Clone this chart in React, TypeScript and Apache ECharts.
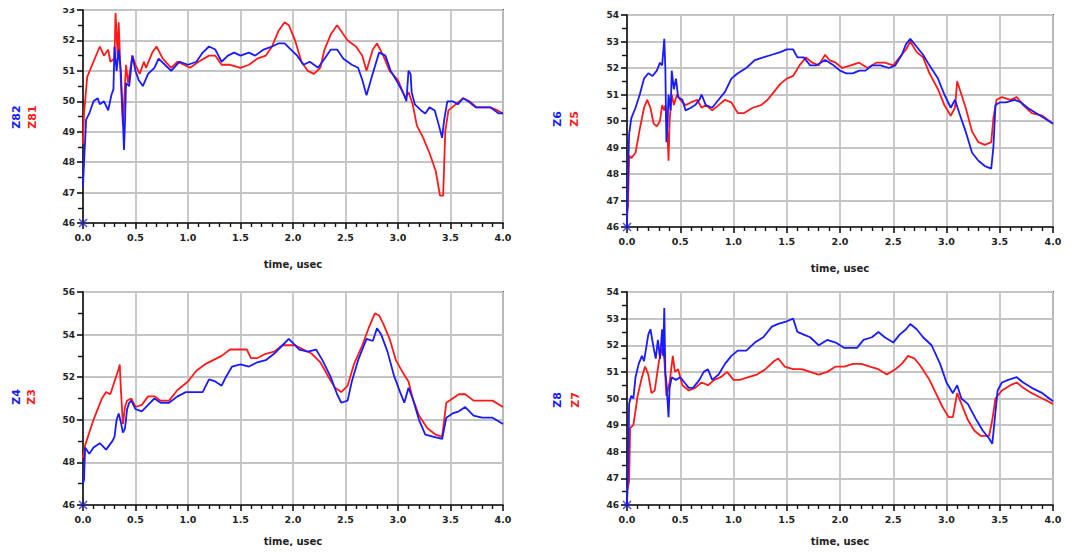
import React, { useEffect, useRef } from "react";
import * as echarts from "echarts";

const xTicks = [0, 0.5, 1, 1.5, 2, 2.5, 3, 3.5, 4];

const panelNames = [
  ["Z82", "Z81"],
  ["Z6", "Z5"],
  ["Z4", "Z3"],
  ["Z8", "Z7"],
];
const yRanges = [
  [46, 53, 1],
  [46, 54, 1],
  [46, 56, 2],
  [46, 54, 1],
];

const tlRed = [[0,48.6],[0.01,49.6],[0.04,50.8],[0.1,51.3],[0.16,51.8],[0.2,51.5],[0.24,51.7],[0.26,51.3],[0.3,51.4],[0.31,52.9],[0.33,51.5],[0.34,52.6],[0.36,50.7],[0.38,49.2],[0.41,51.2],[0.43,50.6],[0.47,51.5],[0.5,51.2],[0.54,50.9],[0.58,51.3],[0.6,51.1],[0.66,51.6],[0.7,51.8],[0.76,51.4],[0.84,51.1],[0.9,51.3],[0.96,51.2],[1.02,51.1],[1.1,51.3],[1.2,51.5],[1.26,51.5],[1.32,51.2],[1.4,51.2],[1.5,51.1],[1.58,51.2],[1.66,51.4],[1.74,51.5],[1.8,51.8],[1.86,52.3],[1.92,52.6],[1.96,52.5],[2.02,52.0],[2.08,51.3],[2.14,51.0],[2.2,50.9],[2.26,51.1],[2.3,51.7],[2.36,52.2],[2.42,52.5],[2.46,52.3],[2.52,52.0],[2.6,51.8],[2.66,51.5],[2.7,51.0],[2.76,51.7],[2.8,51.9],[2.86,51.5],[2.92,51.0],[3.0,50.7],[3.07,50.1],[3.1,50.3],[3.14,49.9],[3.18,49.2],[3.24,48.8],[3.3,48.3],[3.36,47.7],[3.4,46.9],[3.43,46.9],[3.45,49.0],[3.48,49.7],[3.55,49.9],[3.62,50.1],[3.68,50.0],[3.75,49.8],[3.82,49.8],[3.88,49.8],[3.95,49.7],[4.0,49.6]];
const tlBlue = [[0,47.2],[0.01,48.0],[0.03,49.4],[0.06,49.6],[0.1,50.0],[0.14,50.1],[0.16,49.9],[0.2,50.0],[0.24,49.7],[0.27,50.2],[0.29,50.4],[0.3,51.8],[0.32,51.0],[0.34,51.7],[0.36,51.0],[0.38,49.4],[0.39,48.4],[0.4,49.3],[0.41,50.6],[0.44,50.5],[0.47,51.5],[0.5,51.0],[0.53,50.7],[0.57,50.5],[0.62,50.9],[0.68,51.1],[0.72,51.4],[0.78,51.2],[0.84,51.0],[0.92,51.3],[1.0,51.2],[1.08,51.3],[1.14,51.6],[1.2,51.8],[1.26,51.7],[1.32,51.3],[1.38,51.5],[1.44,51.6],[1.5,51.5],[1.58,51.6],[1.64,51.5],[1.72,51.7],[1.8,51.8],[1.86,51.9],[1.92,51.9],[1.98,51.7],[2.04,51.5],[2.1,51.2],[2.16,51.3],[2.24,51.1],[2.3,51.4],[2.36,51.7],[2.42,51.7],[2.48,51.4],[2.56,51.2],[2.62,51.1],[2.66,50.7],[2.7,50.2],[2.75,50.8],[2.82,51.6],[2.88,51.5],[2.93,51.0],[3.0,50.6],[3.06,50.2],[3.08,50.0],[3.1,51.0],[3.12,50.9],[3.13,50.3],[3.16,49.9],[3.22,49.7],[3.26,49.6],[3.3,49.8],[3.35,49.7],[3.39,49.2],[3.42,48.8],[3.44,49.4],[3.47,50.0],[3.52,50.0],[3.57,49.9],[3.62,50.1],[3.67,50.0],[3.74,49.8],[3.82,49.8],[3.88,49.8],[3.96,49.6],[4.0,49.6]];

const trBlue = [[0,46.0],[0.01,48.0],[0.02,49.5],[0.04,50.1],[0.08,50.5],[0.12,51.0],[0.16,51.6],[0.2,51.8],[0.24,51.7],[0.28,51.9],[0.31,52.2],[0.33,52.1],[0.35,53.1],[0.36,52.0],[0.37,49.2],[0.38,49.8],[0.39,51.0],[0.41,50.4],[0.42,51.9],[0.44,51.2],[0.46,51.6],[0.48,50.9],[0.52,50.8],[0.55,50.4],[0.6,50.5],[0.64,50.6],[0.68,50.8],[0.7,51.0],[0.74,50.6],[0.8,50.5],[0.86,50.8],[0.92,51.1],[0.98,51.6],[1.04,51.8],[1.12,52.0],[1.2,52.3],[1.28,52.4],[1.36,52.5],[1.44,52.6],[1.5,52.7],[1.56,52.7],[1.6,52.4],[1.66,52.4],[1.72,52.1],[1.78,52.1],[1.86,52.3],[1.94,52.1],[2.0,51.9],[2.06,51.8],[2.12,51.8],[2.18,51.9],[2.24,51.9],[2.3,52.1],[2.38,52.1],[2.46,52.0],[2.52,52.1],[2.58,52.5],[2.62,52.9],[2.66,53.1],[2.72,52.8],[2.78,52.5],[2.84,52.1],[2.92,51.6],[2.98,51.0],[3.04,50.5],[3.08,50.8],[3.12,50.3],[3.18,49.6],[3.24,48.8],[3.3,48.5],[3.36,48.3],[3.42,48.2],[3.44,49.0],[3.46,50.6],[3.5,50.7],[3.56,50.7],[3.64,50.8],[3.7,50.7],[3.76,50.5],[3.84,50.3],[3.92,50.1],[4.0,49.9]];
const trRed = [[0,46.5],[0.01,46.8],[0.02,48.7],[0.04,48.6],[0.08,48.8],[0.12,49.7],[0.16,50.5],[0.19,50.8],[0.22,50.5],[0.25,49.9],[0.28,49.8],[0.31,50.0],[0.33,50.6],[0.35,50.4],[0.36,50.6],[0.38,49.5],[0.39,48.5],[0.4,50.0],[0.42,51.0],[0.44,50.6],[0.47,51.0],[0.5,50.8],[0.55,50.6],[0.6,50.7],[0.66,50.8],[0.7,50.5],[0.74,50.6],[0.8,50.4],[0.86,50.6],[0.92,50.8],[0.98,50.7],[1.04,50.3],[1.1,50.3],[1.18,50.5],[1.26,50.6],[1.32,50.8],[1.38,51.1],[1.44,51.4],[1.5,51.6],[1.56,51.7],[1.62,52.1],[1.68,52.4],[1.74,52.2],[1.8,52.1],[1.86,52.5],[1.9,52.3],[1.96,52.2],[2.02,52.0],[2.1,52.1],[2.18,52.2],[2.26,52.0],[2.34,52.2],[2.42,52.2],[2.5,52.1],[2.56,52.4],[2.62,52.7],[2.66,53.0],[2.72,52.6],[2.78,52.4],[2.84,51.8],[2.92,51.2],[2.98,50.6],[3.04,50.2],[3.08,50.5],[3.1,51.5],[3.14,51.0],[3.18,50.5],[3.24,49.6],[3.3,49.2],[3.36,49.1],[3.42,49.2],[3.44,50.1],[3.47,50.8],[3.52,50.9],[3.6,50.8],[3.66,50.9],[3.72,50.6],[3.8,50.3],[3.9,50.2],[4.0,49.9]];

const blRed = [[0,48.2],[0.02,48.8],[0.06,49.4],[0.1,50.0],[0.14,50.5],[0.18,51.0],[0.22,51.3],[0.26,51.2],[0.3,51.8],[0.34,52.4],[0.35,52.6],[0.36,51.5],[0.38,49.8],[0.4,50.6],[0.42,50.9],[0.46,51.0],[0.5,50.6],[0.56,50.7],[0.62,51.1],[0.68,51.1],[0.74,50.9],[0.82,50.9],[0.9,51.4],[1.0,51.8],[1.08,52.3],[1.16,52.6],[1.24,52.8],[1.32,53.0],[1.4,53.3],[1.48,53.3],[1.56,53.3],[1.6,52.9],[1.66,52.9],[1.74,53.1],[1.82,53.2],[1.9,53.5],[1.96,53.5],[2.02,53.5],[2.1,53.3],[2.18,53.1],[2.26,52.7],[2.34,52.0],[2.4,51.5],[2.46,51.3],[2.52,51.6],[2.58,52.6],[2.66,53.5],[2.72,54.3],[2.78,55.0],[2.82,54.9],[2.86,54.5],[2.92,53.8],[2.98,52.8],[3.06,52.1],[3.1,51.8],[3.14,51.0],[3.2,50.2],[3.28,49.6],[3.36,49.3],[3.42,49.2],[3.46,50.8],[3.52,51.0],[3.58,51.2],[3.64,51.2],[3.72,50.9],[3.8,50.9],[3.9,50.9],[4.0,50.6]];
const blBlue = [[0,47.0],[0.01,47.2],[0.02,48.7],[0.06,48.4],[0.1,48.7],[0.16,48.9],[0.22,48.6],[0.28,49.0],[0.3,49.2],[0.32,50.0],[0.34,50.3],[0.36,49.9],[0.38,49.4],[0.4,49.6],[0.42,50.5],[0.44,50.8],[0.46,50.9],[0.5,50.5],[0.56,50.4],[0.62,50.7],[0.68,51.0],[0.74,50.8],[0.82,50.8],[0.9,51.1],[0.98,51.3],[1.06,51.3],[1.14,51.3],[1.2,51.9],[1.26,51.8],[1.32,51.6],[1.36,52.0],[1.42,52.5],[1.5,52.6],[1.58,52.5],[1.66,52.7],[1.74,52.8],[1.82,53.1],[1.9,53.5],[1.96,53.8],[2.0,53.6],[2.06,53.3],[2.14,53.2],[2.22,53.3],[2.28,52.8],[2.36,52.0],[2.42,51.2],[2.46,50.8],[2.52,50.9],[2.56,51.8],[2.62,52.8],[2.7,53.8],[2.76,53.7],[2.8,54.3],[2.84,54.0],[2.9,53.2],[2.96,52.1],[3.02,51.3],[3.06,50.8],[3.1,51.5],[3.14,51.0],[3.2,50.0],[3.26,49.3],[3.34,49.2],[3.42,49.1],[3.46,50.1],[3.52,50.3],[3.58,50.4],[3.64,50.6],[3.72,50.2],[3.8,50.1],[3.9,50.1],[4.0,49.8]];

const brBlue = [[0,46.0],[0.01,47.2],[0.02,49.8],[0.04,50.1],[0.06,50.0],[0.08,50.8],[0.11,51.3],[0.14,51.6],[0.16,51.4],[0.2,52.4],[0.22,52.6],[0.25,51.9],[0.27,51.5],[0.29,52.2],[0.31,51.5],[0.33,52.6],[0.34,51.6],[0.35,53.4],[0.36,51.0],[0.37,50.6],[0.39,49.3],[0.4,50.4],[0.42,50.8],[0.46,50.7],[0.5,50.8],[0.54,50.6],[0.58,50.4],[0.62,50.4],[0.68,50.7],[0.72,51.0],[0.76,51.1],[0.8,50.7],[0.86,50.9],[0.92,51.3],[0.98,51.6],[1.04,51.8],[1.12,51.8],[1.2,52.1],[1.28,52.3],[1.36,52.7],[1.42,52.8],[1.5,52.9],[1.56,53.0],[1.6,52.5],[1.66,52.4],[1.72,52.3],[1.8,52.0],[1.88,52.2],[1.96,52.1],[2.04,51.9],[2.1,51.9],[2.16,51.9],[2.22,52.2],[2.3,52.3],[2.36,52.5],[2.42,52.3],[2.5,52.1],[2.56,52.4],[2.62,52.6],[2.66,52.8],[2.72,52.6],[2.78,52.3],[2.86,52.0],[2.94,51.3],[3.0,50.6],[3.06,50.2],[3.1,50.5],[3.14,50.0],[3.2,49.8],[3.28,49.2],[3.34,48.8],[3.4,48.5],[3.43,48.3],[3.45,49.1],[3.48,50.3],[3.52,50.6],[3.58,50.7],[3.66,50.8],[3.72,50.6],[3.8,50.4],[3.9,50.2],[4.0,49.9]];
const brRed = [[0,46.5],[0.02,46.9],[0.03,48.9],[0.06,49.0],[0.1,50.1],[0.14,50.8],[0.17,51.2],[0.2,50.9],[0.23,50.2],[0.26,50.3],[0.3,51.4],[0.33,51.9],[0.35,51.5],[0.37,50.1],[0.4,50.6],[0.43,51.6],[0.45,51.0],[0.48,51.1],[0.52,50.5],[0.58,50.3],[0.64,50.4],[0.7,50.6],[0.76,50.5],[0.82,50.7],[0.88,50.8],[0.94,51.0],[1.0,50.7],[1.06,50.7],[1.14,50.8],[1.22,50.9],[1.3,51.1],[1.38,51.4],[1.42,51.5],[1.48,51.2],[1.56,51.1],[1.64,51.1],[1.72,51.0],[1.8,50.9],[1.88,51.0],[1.96,51.2],[2.04,51.2],[2.12,51.3],[2.2,51.3],[2.28,51.2],[2.36,51.1],[2.44,50.9],[2.52,51.1],[2.58,51.3],[2.64,51.6],[2.7,51.5],[2.76,51.2],[2.84,50.7],[2.9,50.2],[2.96,49.7],[3.02,49.3],[3.06,49.3],[3.1,50.2],[3.14,49.8],[3.2,49.2],[3.26,48.8],[3.32,48.6],[3.4,48.6],[3.43,49.2],[3.46,50.0],[3.52,50.3],[3.6,50.5],[3.66,50.6],[3.72,50.4],[3.8,50.2],[3.9,50.0],[4.0,49.8]];

const panelData = [
  [tlBlue, tlRed],
  [trBlue, trRed],
  [blBlue, blRed],
  [brBlue, brRed],
];

const BLUE = "#1a1aff";
const RED = "#ff1a1a";
const FONT = "DejaVu Sans";

const gridsPx = [
  { left: 83, top: 10, width: 420, height: 213 },
  { left: 627, top: 15, width: 426, height: 212 },
  { left: 83, top: 292, width: 420, height: 213 },
  { left: 627, top: 292, width: 426, height: 213 },
];
const namePos = [
  { bx: 16, rx: 32, y: 117 },
  { bx: 557, rx: 574, y: 119 },
  { bx: 16, rx: 31, y: 397 },
  { bx: 557, rx: 575, y: 400 },
];

export default function App() {
  const ref = useRef<HTMLDivElement>(null);
  useEffect(() => {
    const chart = echarts.init(ref.current!, undefined, { renderer: "svg" });
    const grid = gridsPx.map((g) => ({
      ...g,
      show: true,
      borderColor: "#444",
      borderWidth: 1.8,
      backgroundColor: "#fff",
    }));
    const xAxis = gridsPx.map((_, i) => ({
      type: "value",
      gridIndex: i,
      min: xTicks[0],
      max: xTicks[xTicks.length - 1],
      interval: 0.5,
      name: "time, usec",
      nameLocation: "middle",
      nameGap: i < 2 ? 36 : 31,
      nameTextStyle: { fontFamily: FONT, fontSize: 10, color: "#222", fontWeight: "bold" },
      axisLine: { lineStyle: { color: "#111", width: 1.6 } },
      axisTick: { show: true, length: 6, inside: false, lineStyle: { color: "#111", width: 1.6 } },
      minorTick: { show: true, splitNumber: 5, length: 4, lineStyle: { color: "#111", width: 1.4 } },
      splitLine: { show: true, lineStyle: { color: "#c4c4c4", width: 1.8 } },
      axisLabel: {
        formatter: (v: number) => v.toFixed(1),
        fontFamily: FONT,
        fontSize: 9.5,
        fontWeight: "bold",
        color: "#222",
        margin: 9,
        showMinLabel: true,
        showMaxLabel: true,
      },
    }));
    const yAxis = yRanges.map(([mn, mx, step], i) => ({
      type: "value",
      gridIndex: i,
      min: mn,
      max: mx,
      interval: step,
      axisLine: { show: true, lineStyle: { color: "#111", width: 1.6 } },
      axisTick: { show: true, length: 6, lineStyle: { color: "#111", width: 1.6 } },
      minorTick: { show: true, splitNumber: 2, length: 5, lineStyle: { color: "#111", width: 1.4 } },
      splitLine: { show: true, lineStyle: { color: "#c4c4c4", width: 1.8 } },
      axisLabel: {
        fontFamily: FONT,
        fontSize: 9,
        fontWeight: "bold",
        color: "#222",
        margin: 8,
      },
    }));
    const series: any[] = [];
    panelData.forEach(([blue, red], i) => {
      series.push({
        type: "line",
        xAxisIndex: i,
        yAxisIndex: i,
        data: red,
        showSymbol: false,
        lineStyle: { color: RED, width: 1.8 },
        itemStyle: { color: RED },
      });
      series.push({
        type: "line",
        xAxisIndex: i,
        yAxisIndex: i,
        data: blue,
        showSymbol: false,
        lineStyle: { color: BLUE, width: 1.8 },
        itemStyle: { color: BLUE },
      });
      series.push({
        type: "scatter",
        xAxisIndex: i,
        yAxisIndex: i,
        data: [[0, yRanges[i][0]]],
        symbol: "path://M0 0L10 10M10 0L0 10",
        symbolSize: 8,
        itemStyle: { color: "transparent", borderColor: BLUE, borderWidth: 1.5 },
      });
    });
    const graphic: any[] = [];
    namePos.forEach((p, i) => {
      graphic.push({
        type: "text",
        x: p.bx,
        y: p.y,
        rotation: Math.PI / 2,
        style: {
          text: panelNames[i][0],
          fill: BLUE,
          font: `bold 11px "${FONT}"`,
          align: "center",
          verticalAlign: "middle",
        },
      });
      graphic.push({
        type: "text",
        x: p.rx,
        y: p.y,
        rotation: Math.PI / 2,
        style: {
          text: panelNames[i][1],
          fill: RED,
          font: `bold 11px "${FONT}"`,
          align: "center",
          verticalAlign: "middle",
        },
      });
    });
    chart.setOption({
      animation: false,
      backgroundColor: "#fff",
      grid,
      xAxis,
      yAxis,
      series,
      graphic,
    });
    return () => chart.dispose();
  }, []);
  return <div ref={ref} style={{ width: 1073, height: 554, margin: -8 }} />;
}
